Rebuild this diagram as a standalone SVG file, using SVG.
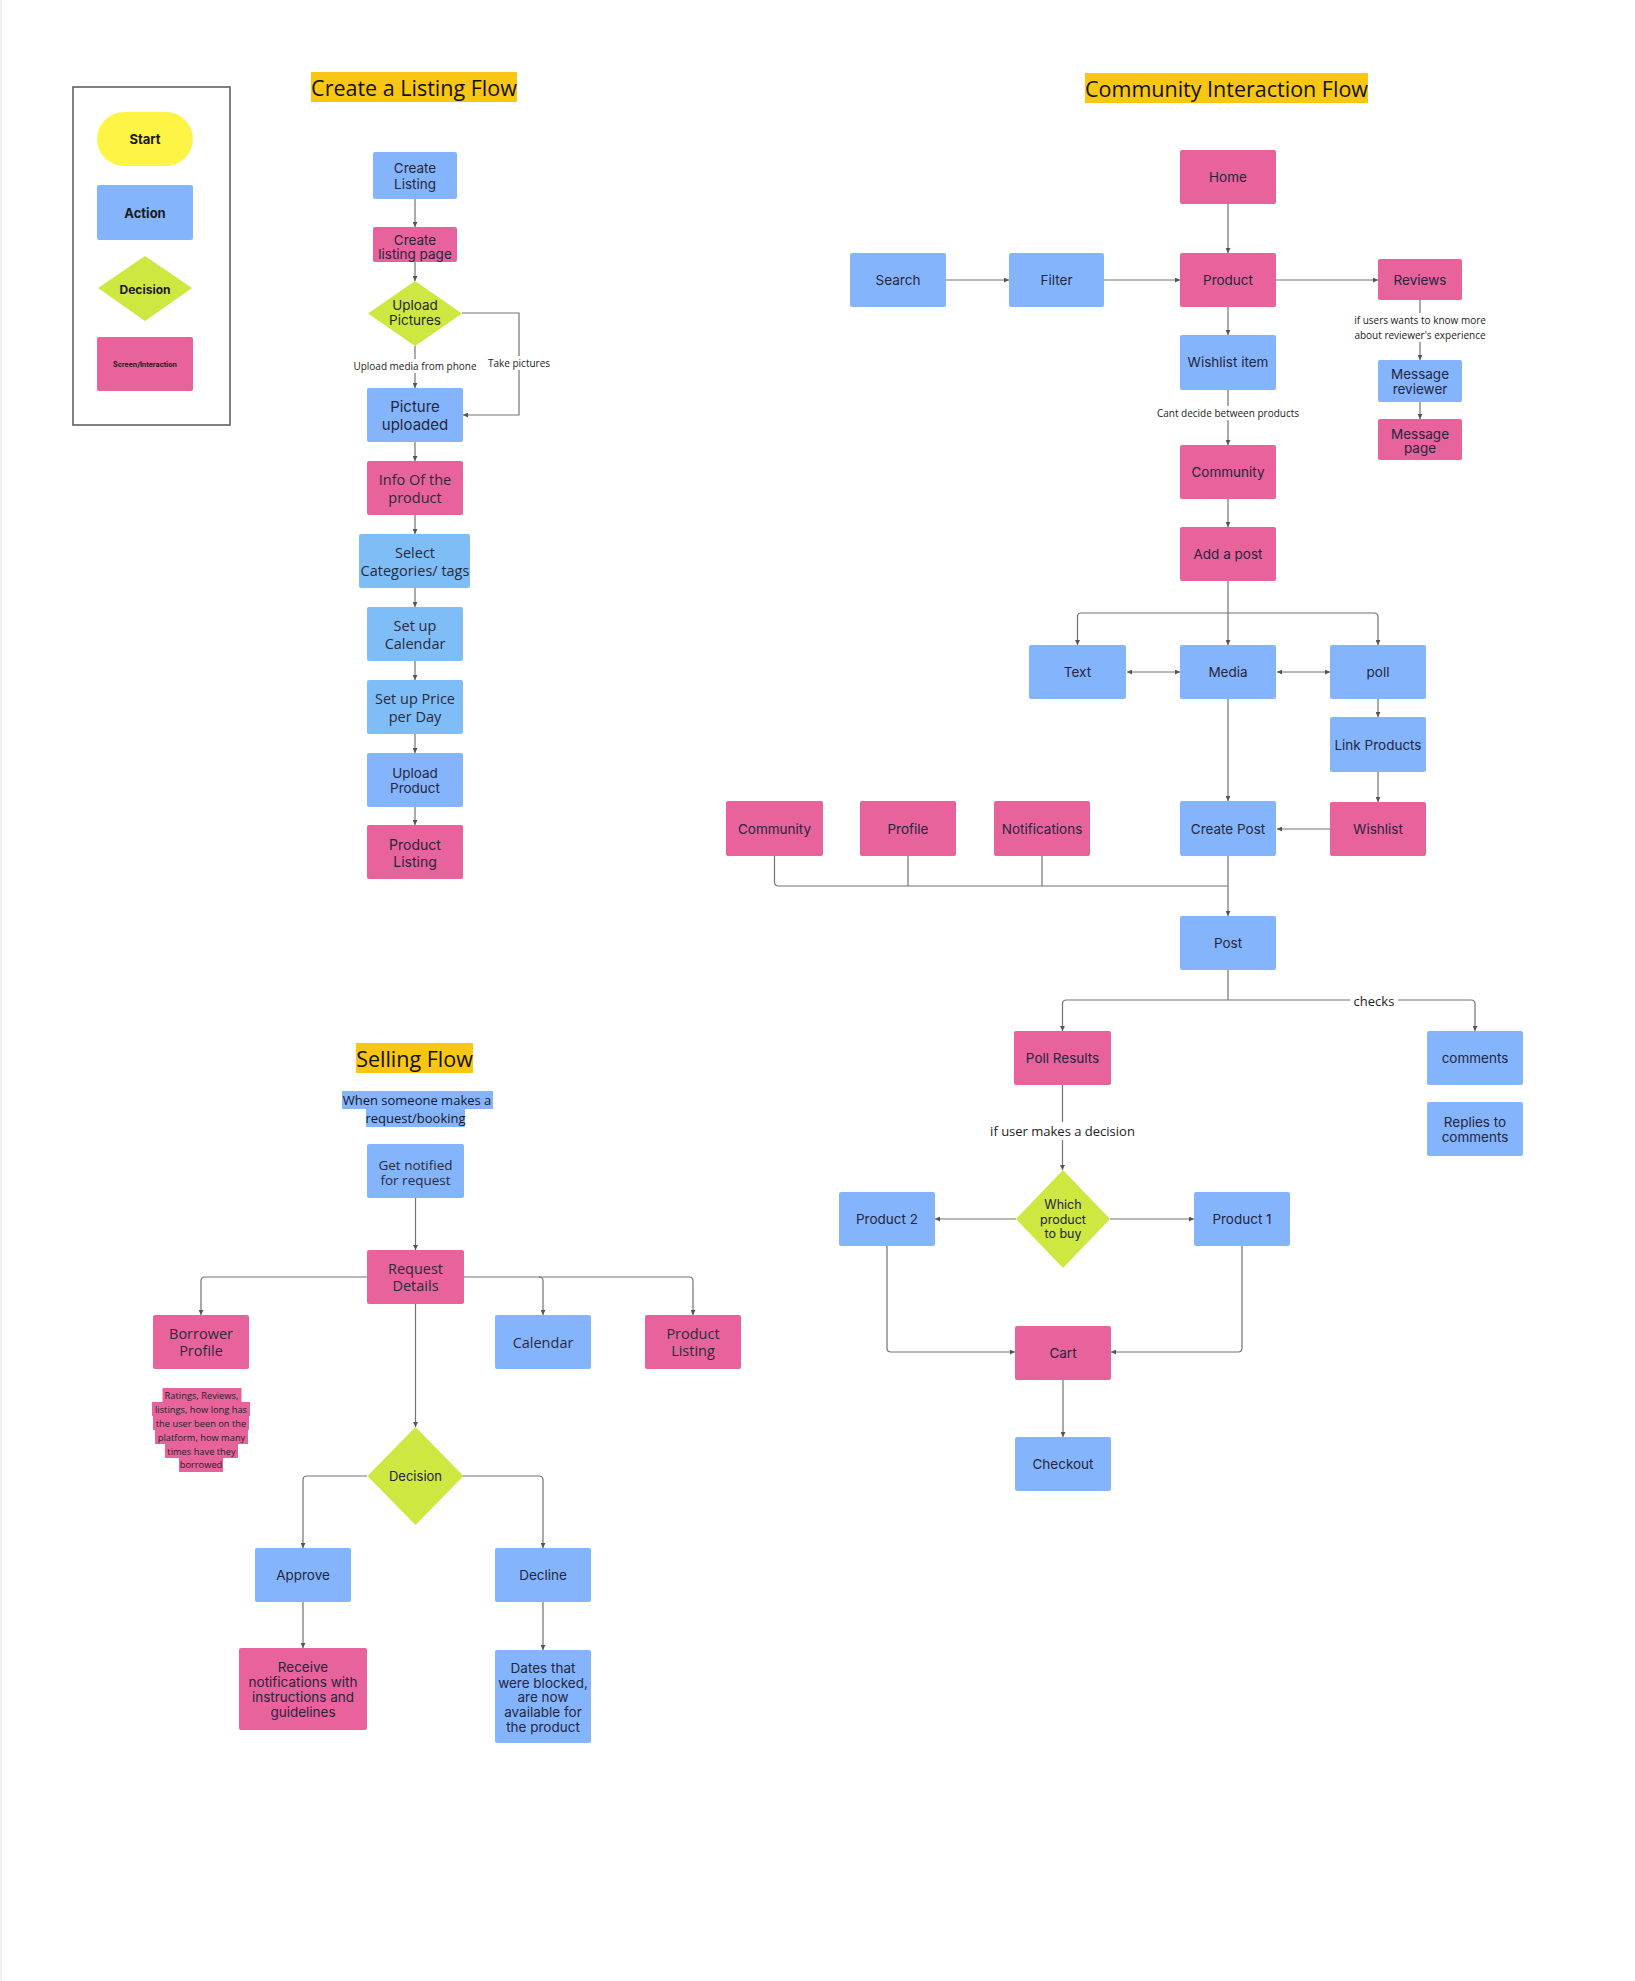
<svg xmlns="http://www.w3.org/2000/svg" width="1635" height="1981" viewBox="0 0 1635 1981">
<style>
.bl{fill:#84b5fc}
.bc{fill:#7fbdf6}
.pk{fill:#e8639c}
.gr{fill:#cee741}
.ttl{fill:#f9c613}
.t{font-family:"Open Sans",sans-serif;font-size:14.5px;fill:#2a2a3a;text-anchor:middle;dominant-baseline:central}
.g{font-family:Inter,"Noto Sans",sans-serif;font-size:13.5px;fill:#25253d;text-anchor:middle;dominant-baseline:central}
.h{font-family:"Open Sans",sans-serif;font-size:21.5px;fill:#111;text-anchor:middle;dominant-baseline:central}
.lb{font-family:"Open Sans",sans-serif;font-size:10px;fill:#222;text-anchor:middle;dominant-baseline:central}
.lg{font-family:Inter,"Noto Sans",sans-serif;font-weight:bold;fill:#1a1a1a;text-anchor:middle;dominant-baseline:central}
.c{fill:none;stroke:#737373;stroke-width:1.2}
.ca{fill:none;stroke:#737373;stroke-width:1.2;marker-end:url(#a)}
.cb{fill:none;stroke:#737373;stroke-width:1.2;marker-end:url(#a);marker-start:url(#a)}
</style>
<defs>
<marker id="a" viewBox="0 0 6 6" refX="6" refY="3" markerWidth="5" markerHeight="5" orient="auto-start-reverse" markerUnits="userSpaceOnUse"><path d="M0,0 L6,3 L0,6 z" fill="#555"/></marker>
<clipPath id="clp"><rect x="373" y="227" width="84" height="35"/></clipPath>
</defs>
<rect width="1635" height="1981" fill="#fff"/>
<line x1="1" y1="0" x2="1" y2="1981" stroke="#ececec" stroke-width="1.5"/>

<!-- Legend -->
<g id="legend">
<rect x="73" y="87" width="157" height="338" fill="none" stroke="#555" stroke-width="1.5"/>
<rect x="97" y="112" width="96" height="54" rx="27" fill="#fef445"/>
<text class="lg" x="145" y="139" style="font-size:13px">Start</text>
<rect x="97" y="185" width="96" height="55" rx="2" class="bl"/>
<text class="lg" x="145" y="213" style="font-size:13px">Action</text>
<polygon points="145,256 192,288 145,321 98,288" class="gr"/>
<text class="lg" x="145" y="289" style="font-size:12px">Decision</text>
<rect x="97" y="337" width="96" height="54" rx="2" class="pk"/>
<text class="lg" x="145" y="364" style="font-size:7px">Screen/Interaction</text>
</g>

<!-- Titles -->
<g id="title-listing"><rect x="311" y="72" width="206" height="30" class="ttl"/><text class="h" x="414" y="87">Create a Listing Flow</text></g>
<g id="title-community"><rect x="1085" y="73" width="283" height="30" class="ttl"/><text class="h" x="1226.5" y="88">Community Interaction Flow</text></g>
<g id="title-selling"><rect x="356" y="1043" width="117" height="30" class="ttl"/><text class="h" x="414.5" y="1058">Selling Flow</text></g>

<!-- Connectors -->
<g id="connectors">
<path class="ca" d="M415,199 V227"/>
<path class="ca" d="M415,262 V281"/>
<path class="ca" d="M415,346 V388"/>
<path class="ca" d="M462,313 H519 V415 H463"/>
<path class="ca" d="M415,442 V461"/>
<path class="ca" d="M415,515 V534"/>
<path class="ca" d="M415,588 V607"/>
<path class="ca" d="M415,661 V680"/>
<path class="ca" d="M415,734 V753"/>
<path class="ca" d="M415,807 V825"/>
<path class="ca" d="M1228,204 V253"/>
<path class="ca" d="M946,280 H1009"/>
<path class="ca" d="M1104,280 H1180"/>
<path class="ca" d="M1276,280 H1378"/>
<path class="ca" d="M1228,307 V335"/>
<path class="ca" d="M1228,390 V445"/>
<path class="ca" d="M1420,300 V360"/>
<path class="ca" d="M1420,402 V419"/>
<path class="ca" d="M1228,499 V527"/>
<path class="c" d="M1228,581 V613"/>
<path class="ca" d="M1228,613 H1081 Q1077.5,613 1077.5,617 V645"/>
<path class="ca" d="M1228,613 V645"/>
<path class="ca" d="M1228,613 H1374 Q1378,613 1378,617 V645"/>
<path class="cb" d="M1127,672 H1180"/>
<path class="cb" d="M1277,672 H1330"/>
<path class="ca" d="M1228,699 V801"/>
<path class="ca" d="M1378,699 V717"/>
<path class="ca" d="M1378,772 V802"/>
<path class="ca" d="M1330,829 H1277"/>
<path class="ca" d="M1228,856 V916"/>
<path class="c" d="M774.5,856 V882 Q774.5,886 778.5,886 H1228"/>
<path class="c" d="M908,856 V886"/>
<path class="c" d="M1042,856 V886"/>
<path class="c" d="M1228,970 V1000"/>
<path class="ca" d="M1228,1000 H1066.5 Q1062.5,1000 1062.5,1004 V1031"/>
<path class="ca" d="M1228,1000 H1471 Q1475,1000 1475,1004 V1031"/>
<path class="ca" d="M1062.5,1085 V1170"/>
<path class="ca" d="M1016,1219 H935"/>
<path class="ca" d="M1110,1219 H1194"/>
<path class="ca" d="M887,1246 V1348 Q887,1352 891,1352 H1015"/>
<path class="ca" d="M1242,1246 V1348 Q1242,1352 1238,1352 H1111"/>
<path class="ca" d="M1063,1380 V1437"/>
<path class="ca" d="M415.5,1198 V1250"/>
<path class="ca" d="M367.5,1277 H205 Q201,1277 201,1281 V1315"/>
<path class="ca" d="M463.5,1277 H689 Q693,1277 693,1281 V1315"/>
<path class="ca" d="M539,1277 Q543,1277 543,1281 V1315"/>
<path class="ca" d="M415.5,1304 V1427"/>
<path class="ca" d="M367,1476 H307 Q303,1476 303,1480 V1548"/>
<path class="ca" d="M463,1476 H539 Q543,1476 543,1480 V1548"/>
<path class="ca" d="M303,1602 V1648"/>
<path class="ca" d="M543,1602 V1650"/>
<rect x="352" y="359" width="126" height="14" fill="#fff"/>
<text class="lb" x="415" y="366">Upload media from phone</text>
<rect x="486" y="356" width="66" height="14" fill="#fff"/>
<text class="lb" x="519" y="363">Take pictures</text>
<rect x="1152" y="406" width="152" height="14" fill="#fff"/>
<text class="lb" x="1228" y="413">Cant decide between products</text>
<rect x="1350" y="313" width="140" height="29" fill="#fff"/>
<text class="lb" x="1420" y="320">if users wants to know more</text>
<text class="lb" x="1420" y="334.5">about reviewer's experience</text>
<rect x="1350" y="992" width="48" height="18" fill="#fff"/>
<text class="lb" x="1374" y="1001" style="font-size:13px">checks</text>
<rect x="988" y="1122" width="150" height="18" fill="#fff"/>
<text class="lb" x="1062.5" y="1131" style="font-size:13px">if user makes a decision</text>
</g>

<!-- Create a Listing Flow nodes -->
<g id="create-listing"><rect x="373" y="152" width="84" height="47" rx="2" class="bl"/><text class="g" x="415" y="168">Create</text><text class="g" x="415" y="183.5">Listing</text></g>
<g id="create-listing-page"><rect x="373" y="227" width="84" height="35" rx="2" class="pk"/><g clip-path="url(#clp)"><text class="g" x="415" y="240">Create</text><text class="g" x="415" y="254">listing page</text></g></g>
<g id="upload-pictures"><polygon points="415,281 462,313.5 415,346 368,313.5" class="gr"/><text class="g" x="415" y="305" style="fill:#1e2a1e">Upload</text><text class="g" x="415" y="319.5" style="fill:#1e2a1e">Pictures</text></g>
<g id="picture-uploaded"><rect x="367" y="388" width="96" height="54" rx="2" class="bl"/><text class="g" x="415" y="406.5" style="font-size:15px">Picture</text><text class="g" x="415" y="424.5" style="font-size:15px">uploaded</text></g>
<g id="info-product"><rect x="367" y="461" width="96" height="54" rx="2" class="pk"/><text class="t" x="415" y="479">Info Of the</text><text class="t" x="415" y="497">product</text></g>
<g id="select-categories"><rect x="359" y="534" width="111" height="54" rx="2" class="bc"/><text class="t" x="415" y="552.5">Select</text><text class="t" x="415" y="570.5">Categories/ tags</text></g>
<g id="setup-calendar"><rect x="367" y="607" width="96" height="54" rx="2" class="bc"/><text class="t" x="415" y="625.5">Set up</text><text class="t" x="415" y="643.5">Calendar</text></g>
<g id="setup-price"><rect x="367" y="680" width="96" height="54" rx="2" class="bc"/><text class="t" x="415" y="698.5">Set up Price</text><text class="t" x="415" y="716.5">per Day</text></g>
<g id="upload-product"><rect x="367" y="753" width="96" height="54" rx="2" class="bl"/><text class="g" x="415" y="772.5">Upload</text><text class="g" x="415" y="787.5">Product</text></g>
<g id="product-listing-1"><rect x="367" y="825" width="96" height="54" rx="2" class="pk"/><text class="g" x="415" y="844" style="font-size:14px">Product</text><text class="g" x="415" y="861.5" style="font-size:14px">Listing</text></g>

<!-- Community Interaction Flow nodes -->
<g id="home"><rect x="1180" y="150" width="96" height="54" rx="2" class="pk"/><text class="g" x="1228" y="177">Home</text></g>
<g id="search"><rect x="850" y="253" width="96" height="54" rx="2" class="bl"/><text class="g" x="898" y="280">Search</text></g>
<g id="filter"><rect x="1009" y="253" width="95" height="54" rx="2" class="bl"/><text class="g" x="1056.5" y="280">Filter</text></g>
<g id="product"><rect x="1180" y="253" width="96" height="54" rx="2" class="pk"/><text class="g" x="1228" y="280">Product</text></g>
<g id="reviews"><rect x="1378" y="259" width="84" height="41" rx="2" class="pk"/><text class="g" x="1420" y="280">Reviews</text></g>
<g id="message-reviewer"><rect x="1378" y="360" width="84" height="42" rx="2" class="bl"/><text class="g" x="1420" y="374">Message</text><text class="g" x="1420" y="388.5">reviewer</text></g>
<g id="message-page"><rect x="1378" y="419" width="84" height="41" rx="2" class="pk"/><text class="g" x="1420" y="433.5">Message</text><text class="g" x="1420" y="447.5">page</text></g>
<g id="wishlist-item"><rect x="1180" y="335" width="96" height="55" rx="2" class="bl"/><text class="g" x="1228" y="362">Wishlist item</text></g>
<g id="community"><rect x="1180" y="445" width="96" height="54" rx="2" class="pk"/><text class="g" x="1228" y="472">Community</text></g>
<g id="add-post"><rect x="1180" y="527" width="96" height="54" rx="2" class="pk"/><text class="g" x="1228" y="554">Add a post</text></g>
<g id="text"><rect x="1029" y="645" width="97" height="54" rx="2" class="bl"/><text class="g" x="1077.5" y="672">Text</text></g>
<g id="media"><rect x="1180" y="645" width="96" height="54" rx="2" class="bl"/><text class="g" x="1228" y="672">Media</text></g>
<g id="poll"><rect x="1330" y="645" width="96" height="54" rx="2" class="bl"/><text class="g" x="1378" y="672">poll</text></g>
<g id="link-products"><rect x="1330" y="717" width="96" height="55" rx="2" class="bl"/><text class="g" x="1378" y="744.5">Link Products</text></g>
<g id="wishlist"><rect x="1330" y="802" width="96" height="54" rx="2" class="pk"/><text class="g" x="1378" y="829">Wishlist</text></g>
<g id="create-post"><rect x="1180" y="801" width="96" height="55" rx="2" class="bl"/><text class="g" x="1228" y="828.5">Create Post</text></g>
<g id="community-2"><rect x="726" y="801" width="97" height="55" rx="2" class="pk"/><text class="g" x="774.5" y="828.5">Community</text></g>
<g id="profile"><rect x="860" y="801" width="96" height="55" rx="2" class="pk"/><text class="g" x="908" y="828.5">Profile</text></g>
<g id="notifications"><rect x="994" y="801" width="96" height="55" rx="2" class="pk"/><text class="g" x="1042" y="828.5">Notifications</text></g>
<g id="post"><rect x="1180" y="916" width="96" height="54" rx="2" class="bl"/><text class="g" x="1228" y="943">Post</text></g>
<g id="poll-results"><rect x="1014" y="1031" width="97" height="54" rx="2" class="pk"/><text class="g" x="1062.5" y="1058">Poll Results</text></g>
<g id="comments"><rect x="1427" y="1031" width="96" height="54" rx="2" class="bl"/><text class="g" x="1475" y="1058">comments</text></g>
<g id="replies"><rect x="1427" y="1102" width="96" height="54" rx="2" class="bl"/><text class="g" x="1475" y="1121.5">Replies to</text><text class="g" x="1475" y="1136.5">comments</text></g>
<g id="which-product"><polygon points="1063,1170 1110,1219 1063,1268 1016,1219" class="gr"/><text class="g" x="1063" y="1204.5" style="font-size:12.5px">Which</text><text class="g" x="1063" y="1219" style="font-size:12.5px">product</text><text class="g" x="1063" y="1233" style="font-size:12.5px">to buy</text></g>
<g id="product-2"><rect x="839" y="1192" width="96" height="54" rx="2" class="bl"/><text class="g" x="887" y="1219">Product 2</text></g>
<g id="product-1"><rect x="1194" y="1192" width="96" height="54" rx="2" class="bl"/><text class="g" x="1242" y="1219">Product 1</text></g>
<g id="cart"><rect x="1015" y="1326" width="96" height="54" rx="2" class="pk"/><text class="g" x="1063" y="1353">Cart</text></g>
<g id="checkout"><rect x="1015" y="1437" width="96" height="54" rx="2" class="bl"/><text class="g" x="1063" y="1464">Checkout</text></g>

<!-- Selling Flow nodes -->
<g id="subtitle"><rect x="342" y="1091" width="151" height="18" class="bl"/><rect x="366" y="1109" width="99" height="18" class="bl"/><text class="t" x="417" y="1100" style="font-size:13px;fill:#15152a">When someone makes a</text><text class="t" x="415.5" y="1118" style="font-size:13px;fill:#15152a">request/booking</text></g>
<g id="get-notified"><rect x="367" y="1144" width="97" height="54" rx="2" class="bl"/><text class="t" x="415.5" y="1164.5" style="font-size:13.5px">Get notified</text><text class="t" x="415.5" y="1179.5" style="font-size:13.5px">for request</text></g>
<g id="request-details"><rect x="367" y="1250" width="97" height="54" rx="2" class="pk"/><text class="t" x="415.5" y="1268.5">Request</text><text class="t" x="415.5" y="1285.5">Details</text></g>
<g id="borrower-profile"><rect x="153" y="1315" width="96" height="54" rx="2" class="pk"/><text class="t" x="201" y="1333">Borrower</text><text class="t" x="201" y="1350.5">Profile</text></g>
<g id="calendar"><rect x="495" y="1315" width="96" height="54" rx="2" class="bl"/><text class="t" x="543" y="1342">Calendar</text></g>
<g id="product-listing-2"><rect x="645" y="1315" width="96" height="54" rx="2" class="pk"/><text class="t" x="693" y="1333">Product</text><text class="t" x="693" y="1350.5">Listing</text></g>
<g id="ratings-note">
<rect x="162.5" y="1388" width="79" height="14" class="pk"/>
<rect x="152" y="1402" width="98" height="14" class="pk"/>
<rect x="153" y="1416" width="96" height="14" class="pk"/>
<rect x="155" y="1430" width="93" height="14" class="pk"/>
<rect x="165" y="1444" width="73" height="14" class="pk"/>
<rect x="179" y="1458" width="44" height="14" class="pk"/>
<text class="lb" x="201.5" y="1395" style="font-size:9.3px">Ratings, Reviews,</text>
<text class="lb" x="201" y="1409" style="font-size:9.3px">listings, how long has</text>
<text class="lb" x="201" y="1423" style="font-size:9.3px">the user been on the</text>
<text class="lb" x="201.5" y="1437" style="font-size:9.3px">platform, how many</text>
<text class="lb" x="201.5" y="1451" style="font-size:9.3px">times have they</text>
<text class="lb" x="201" y="1464.5" style="font-size:9.3px">borrowed</text>
</g>
<g id="decision"><polygon points="415.5,1427 463.5,1476 415.5,1525 367.5,1476" class="gr"/><text class="g" x="415.5" y="1476" style="font-size:13px">Decision</text></g>
<g id="approve"><rect x="255" y="1548" width="96" height="54" rx="2" class="bl"/><text class="g" x="303" y="1575">Approve</text></g>
<g id="decline"><rect x="495" y="1548" width="96" height="54" rx="2" class="bl"/><text class="g" x="543" y="1575">Decline</text></g>
<g id="receive"><rect x="239" y="1648" width="128" height="82" rx="2" class="pk"/><text class="g" x="303" y="1667">Receive</text><text class="g" x="303" y="1682">notifications with</text><text class="g" x="303" y="1697">instructions and</text><text class="g" x="303" y="1712">guidelines</text></g>
<g id="dates"><rect x="495" y="1650" width="96" height="93" rx="2" class="bl"/><text class="g" x="543" y="1668">Dates that</text><text class="g" x="543" y="1683">were blocked,</text><text class="g" x="543" y="1697">are now</text><text class="g" x="543" y="1712">available for</text><text class="g" x="543" y="1727">the product</text></g>
</svg>
